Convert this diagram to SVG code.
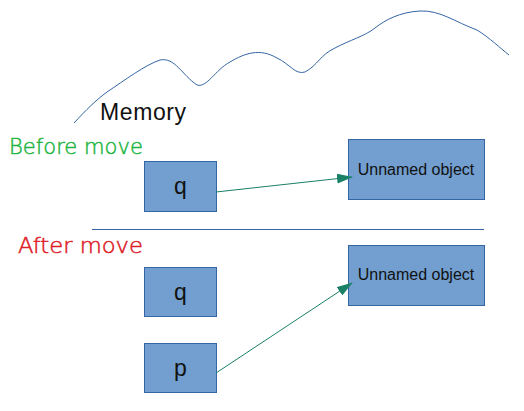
<svg xmlns="http://www.w3.org/2000/svg" width="524" height="411" viewBox="0 0 524 411">
<style>
.box{fill:#729fcf;stroke:#3465a4;stroke-width:1}
.lbl{font-family:"Liberation Sans",Arial,sans-serif;fill:#111;text-anchor:middle}
.big{font-size:23px}
.obj{font-size:16px}
.hand{font-family:"Comic Sans MS","DejaVu Sans",sans-serif;font-size:21px;font-weight:200;stroke-width:0.5}
.conn{stroke:#1a8066;stroke-width:1;fill:none}
</style>
<defs>
<marker id="ah" viewBox="0 0 16 10" refX="15" refY="5" markerWidth="16" markerHeight="10" markerUnits="userSpaceOnUse" orient="auto">
<path d="M0,0 L16,5 L0,10 Z" fill="#1a8066"/>
</marker>
</defs>
<path d="M74,123 C86,110 96,100 107,92 C125,80 145,65 160,60 C175,57 182,75 197,85 C207,88 215,70 230,62 C245,53 260,48 277,58 C290,64 295,75 305,72 C318,65 320,55 335,48 C350,40 365,36 375,28 C385,20 400,12 420,11 C440,10 455,22 477,30 C490,38 500,48 509,55" fill="none" stroke="#3465a4" stroke-width="1"/>
<text class="lbl big" x="100" y="120" style="text-anchor:start" textLength="86">Memory</text>
<text class="hand" x="9" y="154" fill="#1fb53f" stroke="#1fb53f" textLength="134" lengthAdjust="spacingAndGlyphs">Before move</text>
<text class="hand" x="18" y="253" fill="#dd2028" stroke="#dd2028" textLength="125" lengthAdjust="spacingAndGlyphs">After move</text>
<line x1="92" y1="229.5" x2="484" y2="229.5" stroke="#3465a4" stroke-width="1"/>
<g id="q1"><rect class="box" x="144.5" y="161.5" width="72" height="50"/><text class="lbl big" x="180.5" y="194">q</text></g>
<g id="obj1"><rect class="box" x="348.5" y="139.5" width="136" height="60"/><text class="lbl obj" x="416" y="175">Unnamed object</text></g>
<g id="q2"><rect class="box" x="144.5" y="267.5" width="72" height="49"/><text class="lbl big" x="180.5" y="300">q</text></g>
<g id="p"><rect class="box" x="144.5" y="343.5" width="72" height="49"/><text class="lbl big" x="180.5" y="376">p</text></g>
<g id="obj2"><rect class="box" x="348.5" y="245.5" width="136" height="60"/><text class="lbl obj" x="416" y="280">Unnamed object</text></g>
<g id="connectors">
<line class="conn" x1="216" y1="192" x2="352" y2="177" marker-end="url(#ah)"/>
<line class="conn" x1="216" y1="373" x2="352" y2="283" marker-end="url(#ah)"/>
</g>
</svg>
